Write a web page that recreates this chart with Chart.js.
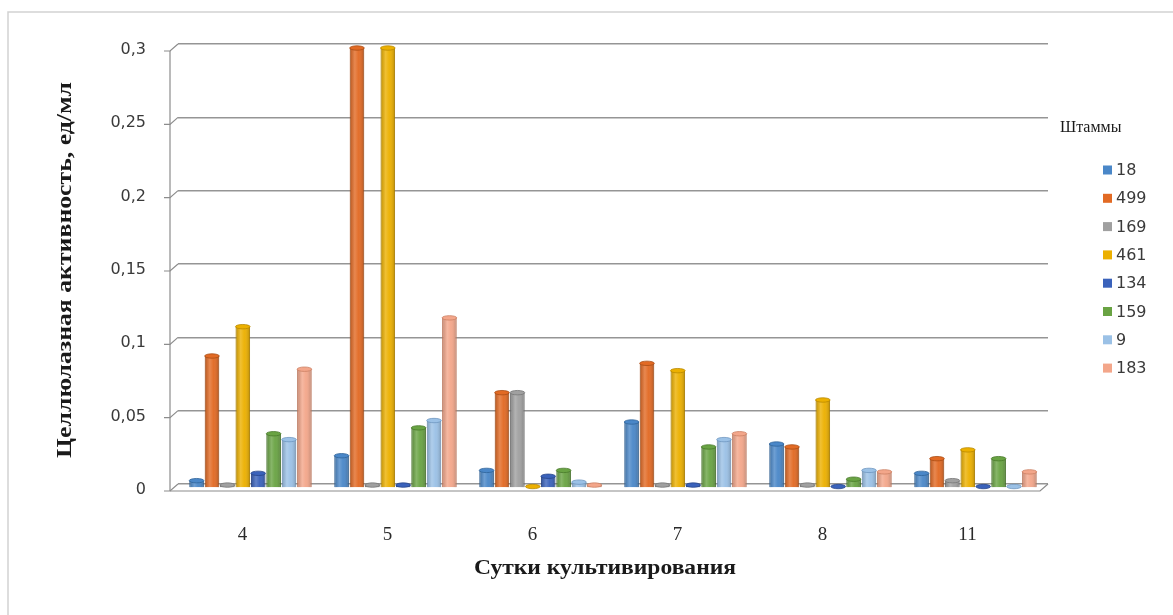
<!DOCTYPE html>
<html lang="ru">
<head>
<meta charset="utf-8">
<title>Целлюлазная активность штаммов</title>
<script src="https://cdn.jsdelivr.net/npm/chart.js@4.4.1/dist/chart.umd.min.js"></script>
<style>
  html, body { margin: 0; padding: 0; background: #ffffff; }
  #wrap { width: 1173px; height: 615px; position: relative; }
  canvas { display: block; }
</style>
</head>
<body>
<div id="wrap"><canvas id="chart" width="1173" height="615"></canvas></div>
<script>
// Сутки культивирования
const days = ['4', '5', '6', '7', '8', '11'];

// Целлюлазная активность (ед/мл) по штаммам
const strain18  = [0.005, 0.022, 0.012, 0.045, 0.030, 0.010];
const strain499 = [0.090, 0.300, 0.065, 0.085, 0.028, 0.020];
const strain169 = [0.002, 0.002, 0.065, 0.002, 0.002, 0.005];
const strain461 = [0.110, 0.300, 0.001, 0.080, 0.060, 0.026];
const strain134 = [0.010, 0.002, 0.008, 0.002, 0.001, 0.001];
const strain159 = [0.037, 0.041, 0.012, 0.028, 0.006, 0.020];
const strain9   = [0.033, 0.046, 0.004, 0.033, 0.012, 0.001];
const strain183 = [0.081, 0.116, 0.002, 0.037, 0.011, 0.011];

const strainNames = ['18', '499', '169', '461', '134', '159', '9', '183'];
const yTickLabels = ['0', '0,05', '0,1', '0,15', '0,2', '0,25', '0,3'];

const fills   = ['#4a87c8', '#e26a24', '#a0a0a0', '#ecb000', '#3a62bb', '#69a343', '#9bc1e6', '#f3a68a'];
const borders = ['#2f6399', '#a94c14', '#767676', '#b98900', '#27458a', '#497a2b', '#6f97c0', '#cc8063'];

const series = [strain18, strain499, strain169, strain461, strain134, strain159, strain9, strain183];

const datasets = series.map((values, i) => ({
  label: strainNames[i],
  data: values,
  backgroundColor: fills[i],
  borderColor: borders[i],
  borderWidth: 1,
  categoryPercentage: 0.85,
  barPercentage: 0.95
}));

// Bars stand on the front edge of the floor, a few pixels ahead of the back wall
const BAR_SHIFT_Y = 4;

const barDepth = {
  id: 'barDepth',
  beforeDatasetsDraw(chart) {
    chart.ctx.save();
    chart.ctx.translate(0, BAR_SHIFT_Y);
  },
  afterDatasetsDraw(chart) {
    const ctx = chart.ctx;
    // round shading so each bar reads as a cylinder, plus an oval cap
    chart.data.datasets.forEach((ds, di) => {
      const meta = chart.getDatasetMeta(di);
      meta.data.forEach(bar => {
        const w = bar.width;
        const left = bar.x - w / 2;
        const top = Math.min(bar.y, bar.base);
        const h = Math.abs(bar.base - bar.y);
        const g = ctx.createLinearGradient(left, 0, left + w, 0);
        g.addColorStop(0, 'rgba(0,0,0,0.18)');
        g.addColorStop(0.35, 'rgba(255,255,255,0.2)');
        g.addColorStop(0.6, 'rgba(255,255,255,0.04)');
        g.addColorStop(1, 'rgba(0,0,0,0.22)');
        ctx.save();
        ctx.fillStyle = g;
        ctx.fillRect(left + 0.5, top, w - 1, h);
        ctx.beginPath();
        ctx.ellipse(bar.x, top, w / 2, 2.2, 0, 0, Math.PI * 2);
        ctx.fillStyle = ds.backgroundColor;
        ctx.fill();
        ctx.strokeStyle = ds.borderColor;
        ctx.lineWidth = 0.8;
        ctx.stroke();
        ctx.restore();
      });
    });
    ctx.restore();
  }
};

// Left wall, floor and outer frame of the pseudo-3D plot
const frame3d = {
  id: 'frame3d',
  beforeDatasetsDraw(chart) {
    const { ctx, chartArea: a, scales } = chart;
    const dx = 8, dy = 7;
    const y = scales.y;
    ctx.save();
    ctx.strokeStyle = '#8c8c8c';
    ctx.lineWidth = 1.2;
    const yTop = y.getPixelForValue(y.max);
    const yZero = y.getPixelForValue(0);
    ctx.beginPath();
    ctx.moveTo(a.left - dx, yTop + dy);
    ctx.lineTo(a.left - dx, yZero + dy);
    ctx.stroke();
    y.ticks.forEach(t => {
      const py = y.getPixelForValue(t.value);
      ctx.beginPath();
      ctx.moveTo(a.left - dx - 6, py + dy);
      ctx.lineTo(a.left - dx, py + dy);
      ctx.lineTo(a.left, py);
      ctx.stroke();
    });
    ctx.beginPath();
    ctx.moveTo(a.left - dx, yZero + dy);
    ctx.lineTo(a.right - dx, yZero + dy);
    ctx.lineTo(a.right, yZero);
    ctx.stroke();
    ctx.restore();
  },
  beforeDraw(chart) {
    const ctx = chart.ctx;
    ctx.save();
    ctx.fillStyle = '#ffffff';
    ctx.fillRect(0, 0, chart.width, chart.height);
    ctx.strokeStyle = '#d2d2d2';
    ctx.lineWidth = 1.5;
    ctx.beginPath();
    ctx.moveTo(8, chart.height);
    ctx.lineTo(8, 12);
    ctx.lineTo(chart.width, 12);
    ctx.stroke();
    ctx.restore();
  }
};

// Axis titles in a wide serif face
const axisTitles = {
  id: 'axisTitles',
  afterDraw(chart) {
    const ctx = chart.ctx;
    const a = chart.chartArea;
    const drawWide = (text, cx, cy, targetWidth, angle) => {
      ctx.save();
      ctx.font = 'bold 21px "Liberation Serif", "Times New Roman", serif';
      ctx.fillStyle = '#1a1a1a';
      ctx.textAlign = 'center';
      ctx.textBaseline = 'middle';
      const w = ctx.measureText(text).width;
      ctx.translate(cx, cy);
      ctx.rotate(angle);
      ctx.scale(targetWidth / w, 1);
      ctx.fillText(text, 0, 0);
      ctx.restore();
    };
    drawWide('Целлюлазная активность, ед/мл', 66, (a.top + a.bottom) / 2 + 6, 376, -Math.PI / 2);
    drawWide('Сутки культивирования', (a.left + a.right) / 2 - 8, 569, 262, 0);
  }
};

// Legend column at the right
const sideLegend = {
  id: 'sideLegend',
  afterDraw(chart) {
    const ctx = chart.ctx;
    ctx.save();
    ctx.fillStyle = '#1a1a1a';
    ctx.font = '16px "Liberation Serif", "Times New Roman", serif';
    ctx.textBaseline = 'middle';
    ctx.textAlign = 'left';
    ctx.fillText('Штаммы', 1060, 128);
    ctx.font = '16px "DejaVu Sans", sans-serif';
    chart.data.datasets.forEach((ds, i) => {
      const cy = 170 + i * 28.3;
      ctx.fillStyle = ds.backgroundColor;
      ctx.fillRect(1103, cy - 4.5, 9, 9);
      ctx.fillStyle = '#3a3a3a';
      ctx.fillText(ds.label, 1116, cy + 1);
    });
    ctx.restore();
  }
};

new Chart(document.getElementById('chart'), {
  type: 'bar',
  data: { labels: days, datasets },
  options: {
    responsive: false,
    animation: false,
    layout: { padding: { top: 44, right: 125, left: 0, bottom: 0 } },
    plugins: {
      legend: { display: false },
      tooltip: { enabled: false }
    },
    scales: {
      x: {
        grid: { display: false },
        border: { display: false },
        ticks: {
          color: '#2a2a2a',
          font: { family: '"Liberation Serif", "Times New Roman", serif', size: 19 },
          padding: 32,
          labelOffset: -8
        },
        afterFit(scale) { scale.height = 131; }
      },
      y: {
        min: 0,
        max: 0.3,
        grid: { color: '#959595', lineWidth: 1.6, drawTicks: false },
        border: { display: false },
        ticks: {
          stepSize: 0.05,
          color: '#3a3a3a',
          font: { family: '"DejaVu Sans", sans-serif', size: 16 },
          padding: 32,
          labelOffset: 6,
          callback: (v, i) => yTickLabels[i]
        },
        afterFit(scale) { scale.width = 178; }
      }
    }
  },
  plugins: [frame3d, barDepth, axisTitles, sideLegend]
});
</script>
</body>
</html>
